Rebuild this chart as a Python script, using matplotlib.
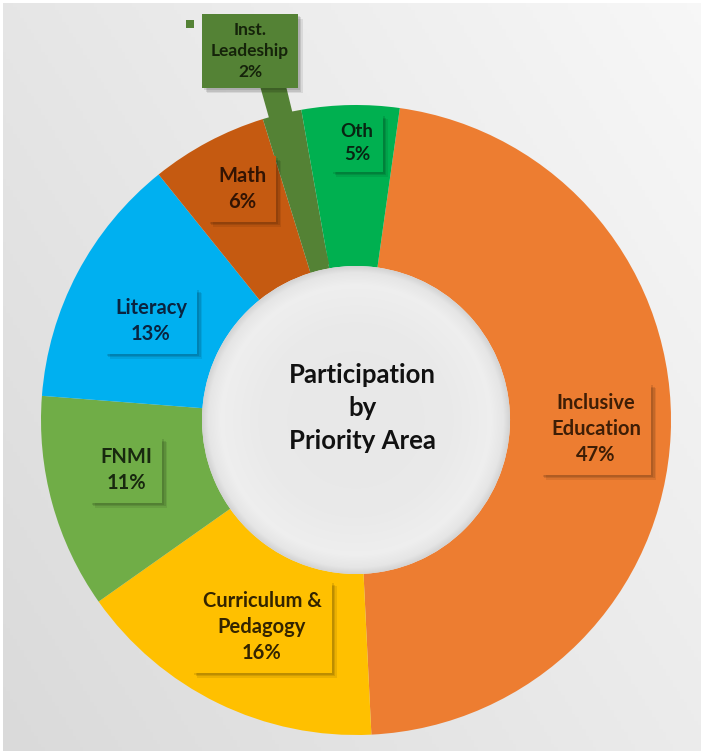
import numpy as np
import matplotlib
matplotlib.use("Agg")
import matplotlib.pyplot as plt
from matplotlib.patches import Circle, Polygon, Rectangle

# ---- data ----
categories = ["Inclusive\nEducation", "Curriculum &\nPedagogy", "FNMI", "Literacy", "Math", "Inst.\nLeadeship", "Oth"]
values = [47, 16, 11, 13, 6, 2, 5]
colors = ["#ED7D31", "#FFC000", "#70AD47", "#00B0F0", "#C55A11", "#548235", "#00B050"]
text_colors = ["#3e1e06", "#332400", "#18280f", "#0a2440", "#331403", "#15230a", "#082512"]
title = "Participation\nby\nPriority Area"

W, H = 704, 754
fig = plt.figure(figsize=(W / 100, H / 100), dpi=100, facecolor="white")
ax = fig.add_axes([0, 0, 1, 1])

def Y(y):
    return H - y

# background gradient
gx, gy = np.meshgrid(np.linspace(0, 1, 200), np.linspace(0, 1, 200))
t = (gx * 0.6 + (1 - gy) * 0.4)
bg = 0.855 + t * 0.115
ax.imshow(np.dstack([bg, bg, bg]), extent=[3, W - 3, 3, H - 3], origin="upper", zorder=0, aspect="auto")

cx, cy = 356, Y(420)
R = 315
Rin = 154

wedges, _ = ax.pie(values, colors=colors, startangle=82, counterclock=False,
                   radius=R, center=(cx, cy), frame=True,
                   wedgeprops=dict(width=R - Rin, edgecolor="none", linewidth=0))
for w in wedges:
    w.set_zorder(2)
ax.set_xlim(0, W)
ax.set_ylim(0, H)
ax.set_aspect("equal")
ax.axis("off")

# inner hole radial gradient
n = 300
xx, yy = np.meshgrid(np.linspace(-1, 1, n), np.linspace(-1, 1, n))
rr = np.sqrt(xx ** 2 + yy ** 2)
shade = np.interp(rr, [0, 0.6, 0.88, 0.96, 1.0], [0.91, 0.915, 0.935, 0.90, 0.83])
img = ax.imshow(np.dstack([shade, shade, shade]), extent=[cx - Rin, cx + Rin, cy - Rin, cy + Rin],
                origin="lower", zorder=3)
img.set_clip_path(Circle((cx, cy), Rin, transform=ax.transData))

# center title
ax.text(cx + 6, Y(408), title, ha="center", va="center", fontsize=18.5, fontweight="bold",
        family=["Lato", "DejaVu Sans"], color="#111111", linespacing=1.45, zorder=5)

# label positions (box centers in pixel coords of the picture)
label_pos = [(596, 429), (262, 627), (126, 470), (151, 321), (242, 189), (250, 51), (357, 143)]
label_sizes = [14.5, 14.5, 14.5, 14.5, 14.5, 12.5, 13.5]

texts = []
for i, (cat, v) in enumerate(zip(categories, values)):
    lx, ly = label_pos[i]
    s = f"{cat}\n{v}%"
    if i == 5:
        # leader from box to slice
        cum = sum(values[:i]) + values[i] / 2
        ang = np.deg2rad(82 - cum / sum(values) * 360)
        px = cx + (Rin + 6) * np.cos(ang)
        py = cy + (Rin + 6) * np.sin(ang)
        poly = Polygon([(lx + 10, Y(86)), (lx + 36, Y(86)), (px + 11, py), (px - 8, py)],
                       closed=True, fc=colors[i], ec="none", zorder=4)
        ax.add_patch(poly)
        ax.add_patch(Rectangle((186, Y(28)), 8, 8, fc=colors[i], ec="none", zorder=6))
    tx = ax.text(lx, Y(ly), s, color=text_colors[i], ha="center", va="center", fontsize=label_sizes[i],
                 fontweight="bold", family=["Lato", "DejaVu Sans"], linespacing=1.36,
                 bbox=dict(boxstyle="square,pad=0.5", fc=colors[i], ec="none"), zorder=7)
    texts.append(tx)

# drop shadows for the label boxes
fig.canvas.draw()
inv = ax.transData.inverted()
for tx in texts:
    bb = tx.get_bbox_patch().get_window_extent()
    (x0, y0), (x1, y1) = inv.transform([[bb.x0, bb.y0], [bb.x1, bb.y1]])
    for k, a in enumerate([0.10, 0.10, 0.08]):
        off = 2 + k * 1.5
        ax.add_patch(Rectangle((x0 + off, y0 - off), x1 - x0, y1 - y0,
                               fc=(0, 0, 0, a), ec="none", zorder=6))

fig.savefig("out.png", dpi=100, facecolor="white")
